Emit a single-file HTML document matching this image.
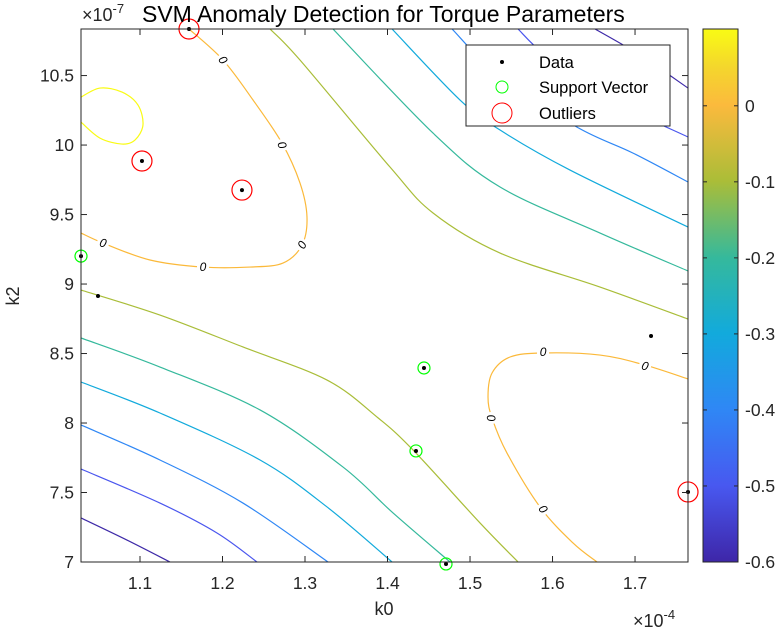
<!DOCTYPE html>
<html><head><meta charset="utf-8"><style>
html,body{margin:0;padding:0;background:#fff;overflow:hidden;}
svg{display:block;font-family:"Liberation Sans",sans-serif;}
</style></head><body>
<svg id="chart" width="780" height="630" viewBox="0 0 780 630">
<defs>
<clipPath id="plotclip"><rect x="81" y="29" width="607" height="533"/></clipPath>
<linearGradient id="parula" x1="0" y1="1" x2="0" y2="0">
<stop offset="0" stop-color="#3e26a8"/><stop offset="0.143" stop-color="#4858f0"/>
<stop offset="0.286" stop-color="#2f87f5"/><stop offset="0.429" stop-color="#12aadc"/>
<stop offset="0.571" stop-color="#35b99c"/><stop offset="0.714" stop-color="#aabd38"/>
<stop offset="0.857" stop-color="#fbba3d"/><stop offset="0.93" stop-color="#f4d72c"/>
<stop offset="1" stop-color="#f9fb14"/>
</linearGradient>
</defs>
<rect x="81" y="29" width="607" height="533" fill="#fff"/>
<g id="contours" clip-path="url(#plotclip)"></g>
<g id="labels"></g>
<g id="points"></g>
<g id="axes"></g>
<text x="82" y="21" font-size="18" fill="#262626">×10<tspan dy="-8" font-size="13">-7</tspan></text>
<text x="142" y="22" font-size="23" fill="#000">SVM Anomaly Detection for Torque Parameters</text>
<text x="384" y="615" font-size="18" fill="#262626" text-anchor="middle">k0</text>
<text x="0" y="0" font-size="18" fill="#262626" text-anchor="middle" transform="translate(19,296) rotate(-90)">k2</text>
<text x="633" y="627" font-size="18" fill="#262626">×10<tspan dy="-8" font-size="13">-4</tspan></text>
<g>
<rect x="466" y="45" width="204" height="81" fill="#fff" stroke="#262626" stroke-width="1"/>
<circle cx="502" cy="62" r="2" fill="#000"/>
<text x="539" y="68" font-size="16.5">Data</text>
<circle cx="502" cy="87" r="6" fill="none" stroke="#00ff00"/>
<text x="539" y="93" font-size="16.5">Support Vector</text>
<circle cx="502" cy="113" r="10" fill="none" stroke="#ff0000"/>
<text x="539" y="119" font-size="16.5">Outliers</text>
</g>
<rect x="703" y="29" width="35" height="533" fill="url(#parula)" stroke="#262626" stroke-width="1"/>
<g id="cbticks"></g>
</svg>
<script>
// axis domains
const xDomain = [1.0285, 1.7642];
const yDomain = [7.0, 10.835];
const cDomain = [-0.6, 0.101];
const xTicks = [1.1, 1.2, 1.3, 1.4, 1.5, 1.6, 1.7];
const yTicks = [7, 7.5, 8, 8.5, 9, 9.5, 10, 10.5];
const cTicks = [0, -0.1, -0.2, -0.3, -0.4, -0.5, -0.6];
// data points
const dataX = [1.1594, 1.1024, 1.2236, 1.0285, 1.0491, 1.4442, 1.4345, 1.4709, 1.7194, 1.7642];
const dataY = [10.835, 9.885, 9.676, 9.201, 8.914, 8.396, 7.799, 6.986, 8.626, 7.504];
const supportIdx = [3, 5, 6, 7];
const outlierIdx = [0, 1, 2, 9];
// contour levels and paths (data units)
const levels = [0.1, 0, 0, -0.1, -0.1, -0.2, -0.2, -0.3, -0.3, -0.4, -0.4, -0.5, -0.5, -0.6, -0.6];
const contourPaths = [
 [[1.0285,10.345],[1.0515,10.410],[1.0782,10.381],[1.0976,10.288],[1.1036,10.144],[1.0939,10.036],[1.0782,10.007],[1.0515,10.050],[1.0285,10.165]],
 [[1.1594,10.835],[1.2006,10.612],[1.2370,10.324],[1.2721,10.014],[1.2939,9.727],[1.3024,9.482],[1.2964,9.281],[1.2733,9.151],[1.2333,9.122],[1.1764,9.122],[1.1121,9.173],[1.0552,9.295],[1.0285,9.367]],
 [[1.7642,8.317],[1.7121,8.417],[1.6576,8.489],[1.5885,8.504],[1.5485,8.475],[1.5267,8.360],[1.5218,8.187],[1.5267,8.036],[1.5448,7.784],[1.5848,7.396],[1.6248,7.137],[1.6539,7.0]],
 [[1.2576,10.835],[1.2939,10.612],[1.4030,9.842],[1.4552,9.511],[1.5364,9.223],[1.6576,8.978],[1.7642,8.748]],
 [[1.0285,8.957],[1.1242,8.777],[1.2248,8.547],[1.3267,8.309],[1.3873,8.043],[1.4309,7.806],[1.5121,7.281],[1.5582,7.0]],
 [[1.3339,10.835],[1.4552,10.086],[1.5364,9.698],[1.6576,9.367],[1.7642,9.094]],
 [[1.0285,8.612],[1.1242,8.403],[1.2455,8.094],[1.3461,7.683],[1.4067,7.353],[1.4758,7.0]],
 [[1.4055,10.835],[1.4879,10.324],[1.5364,10.108],[1.6212,9.820],[1.7642,9.410]],
 [[1.0285,8.295],[1.1242,8.072],[1.2455,7.734],[1.3267,7.396],[1.4055,7.0]],
 [[1.4782,10.835],[1.5364,10.489],[1.6297,10.129],[1.6976,9.942],[1.7642,9.734]],
 [[1.0285,7.986],[1.1242,7.734],[1.2248,7.424],[1.3279,7.0]],
 [[1.5582,10.835],[1.5909,10.647],[1.6576,10.36],[1.7642,10.058]],
 [[1.0285,7.669],[1.1242,7.424],[1.1933,7.209],[1.2418,7.0]],
 [[1.6515,10.835],[1.7061,10.647],[1.7642,10.41]],
 [[1.0285,7.317],[1.0842,7.158],[1.1364,7.0]]
];
const labelX = [1.2006, 1.2721, 1.2964, 1.1764, 1.0552, 1.5885, 1.7121, 1.5255, 1.5885];
const labelY = [10.612, 10.0, 9.281, 9.122, 9.295, 8.511, 8.41, 8.036, 7.381];
const labelAngle = [55, 70, -60, 0, 15, 0, 15, 80, 55];

const PX = [81, 688], PY = [562, 29], CY = [562, 29];
const sx = v => PX[0] + (v - xDomain[0]) / (xDomain[1] - xDomain[0]) * (PX[1] - PX[0]);
const sy = v => PY[0] + (v - yDomain[0]) / (yDomain[1] - yDomain[0]) * (PY[1] - PY[0]);
const sc = v => CY[0] + (v - cDomain[0]) / (cDomain[1] - cDomain[0]) * (CY[1] - CY[0]);
const NS = 'http://www.w3.org/2000/svg';
const levelKeys = [0.1, 0, -0.1, -0.2, -0.3, -0.4, -0.5, -0.6];
const levelColors = ['#f9fb14', '#fbb93a', '#a9bd38', '#35b99c', '#12aadc', '#2f87f5', '#4a56ee', '#3e2aa8'];
function parula(v){
  let best = 0;
  levelKeys.forEach((k, i) => { if (Math.abs(k - v) < Math.abs(levelKeys[best] - v)) best = i; });
  return levelColors[best];
}
function smoothPath(pts){
  let d = 'M' + pts[0][0].toFixed(2) + ',' + pts[0][1].toFixed(2);
  for (let i = 0; i < pts.length - 1; i++) {
    const p0 = pts[Math.max(0, i-1)], p1 = pts[i], p2 = pts[i+1], p3 = pts[Math.min(pts.length-1, i+2)];
    const c1 = [p1[0] + (p2[0]-p0[0])/6, p1[1] + (p2[1]-p0[1])/6];
    const c2 = [p2[0] - (p3[0]-p1[0])/6, p2[1] - (p3[1]-p1[1])/6];
    d += ' C' + c1.join(',') + ' ' + c2.join(',') + ' ' + p2.join(',');
  }
  return d;
}
const gC = document.getElementById('contours');
contourPaths.forEach((path, i) => {
  const p = document.createElementNS(NS, 'path');
  p.setAttribute('d', smoothPath(path.map(q => [sx(q[0]), sy(q[1])])));
  p.setAttribute('fill', 'none');
  p.setAttribute('stroke', parula(levels[i]));
  p.setAttribute('stroke-width', '1.2');
  
  
  gC.appendChild(p);
});
const gL = document.getElementById('labels');
labelX.forEach((lx, i) => {
  const x = sx(lx), y = sy(labelY[i]);
  const r = document.createElementNS(NS, 'rect');
  r.setAttribute('x', x - 6); r.setAttribute('y', y - 6); r.setAttribute('width', 12); r.setAttribute('height', 12);
  r.setAttribute('fill', '#fff');
  r.setAttribute('transform', 'rotate(' + labelAngle[i] + ' ' + x + ' ' + y + ')');
  
  
  gL.appendChild(r);
  const t = document.createElementNS(NS, 'text');
  t.setAttribute('x', x); t.setAttribute('y', y + 4);
  t.setAttribute('font-size', '12'); t.setAttribute('text-anchor', 'middle'); t.setAttribute('font-style', 'italic');
  t.setAttribute('transform', 'rotate(' + labelAngle[i] + ' ' + x + ' ' + y + ')');
  t.textContent = '0';
  
  
  gL.appendChild(t);
});
const gP = document.getElementById('points');
supportIdx.forEach(i => {
  const c = document.createElementNS(NS, 'circle');
  c.setAttribute('cx', sx(dataX[i])); c.setAttribute('cy', sy(dataY[i])); c.setAttribute('r', 6);
  c.setAttribute('fill', 'none'); c.setAttribute('stroke', '#00ff00'); c.setAttribute('stroke-width', '1.2');
  
  
  gP.appendChild(c);
});
outlierIdx.forEach(i => {
  const c = document.createElementNS(NS, 'circle');
  c.setAttribute('cx', sx(dataX[i])); c.setAttribute('cy', sy(dataY[i])); c.setAttribute('r', 10);
  c.setAttribute('fill', 'none'); c.setAttribute('stroke', '#ff0000'); c.setAttribute('stroke-width', '1.2');
  
  
  gP.appendChild(c);
});
dataX.forEach((dx, i) => {
  const c = document.createElementNS(NS, 'circle');
  c.setAttribute('cx', sx(dx)); c.setAttribute('cy', sy(dataY[i])); c.setAttribute('r', 2);
  c.setAttribute('fill', '#000');
  
  
  gP.appendChild(c);
});
const gA = document.getElementById('axes');
function line(g, x1, y1, x2, y2, name){
  const l = document.createElementNS(NS, 'line');
  l.setAttribute('x1', x1); l.setAttribute('y1', y1); l.setAttribute('x2', x2); l.setAttribute('y2', y2);
  l.setAttribute('stroke', '#262626'); l.setAttribute('stroke-width', '1');
  
  
  g.appendChild(l);
}
function text(g, x, y, s, anchor, name){
  const t = document.createElementNS(NS, 'text');
  t.setAttribute('x', x); t.setAttribute('y', y); t.setAttribute('font-size', '17.5');
  t.setAttribute('fill', '#262626'); t.setAttribute('text-anchor', anchor);
  t.textContent = s;
  
  
  g.appendChild(t);
}
const box = document.createElementNS(NS, 'rect');
box.setAttribute('x', 81); box.setAttribute('y', 29); box.setAttribute('width', 607); box.setAttribute('height', 533);
box.setAttribute('fill', 'none'); box.setAttribute('stroke', '#262626');


gA.appendChild(box);
xTicks.forEach(v => {
  const x = sx(v);
  line(gA, x, 562, x, 556, 'x-tick');
  line(gA, x, 29, x, 35, 'x-tick-top');
  text(gA, x, 589, v.toFixed(1), 'middle', 'x-tick-label');
});
yTicks.forEach(v => {
  const y = sy(v);
  line(gA, 81, y, 87, y, 'y-tick');
  line(gA, 688, y, 682, y, 'y-tick-right');
  text(gA, 74, y + 6, String(v), 'end', 'y-tick-label');
});
const gT = document.getElementById('cbticks');
cTicks.forEach(v => {
  const y = sc(v);
  line(gT, 703, y, 707, y, 'colorbar-tick');
  line(gT, 738, y, 734, y, 'colorbar-tick-right');
  text(gT, 745, y + 6, String(v), 'start', 'colorbar-tick-label');
});
</script>
</body></html>
